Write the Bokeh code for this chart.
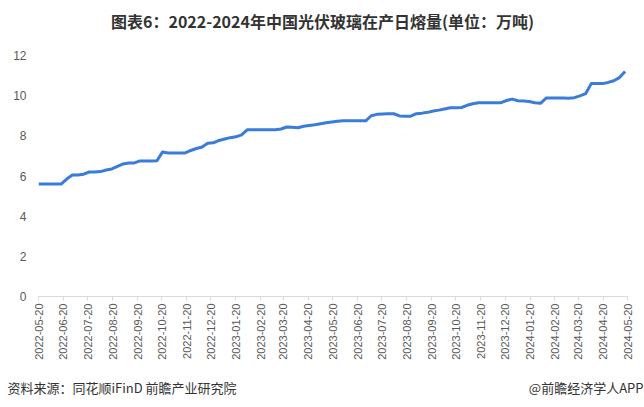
import math
import pandas as pd
from bokeh.plotting import figure
from bokeh.layouts import column, row
from bokeh.models import FixedTicker, DatetimeTickFormatter, Range1d, ColumnDataSource
from bokeh.core.properties import value
from bokeh.embed import file_html
from bokeh.resources import INLINE

title_text = "图表6：2022-2024年中国光伏玻璃在产日熔量(单位：万吨)"
source_text = "资料来源：同花顺iFinD 前瞻产业研究院"
brand_text = "@前瞻经济学人APP"

start_date = "2022-05-20"
# weekly daily-melting capacity (10k tonnes / day)
melt = [
    5.60, 5.60, 5.60, 5.60, 5.60, 5.85, 6.05, 6.05, 6.09, 6.20,
    6.20, 6.22, 6.30, 6.35, 6.48, 6.60, 6.65, 6.65, 6.75, 6.75,
    6.75, 6.76, 7.20, 7.15, 7.15, 7.15, 7.15, 7.27, 7.37, 7.44,
    7.63, 7.65, 7.77, 7.84, 7.91, 7.95, 8.05, 8.30, 8.30, 8.30,
    8.30, 8.30, 8.30, 8.34, 8.44, 8.43, 8.40, 8.48, 8.52, 8.55,
    8.60, 8.65, 8.69, 8.73, 8.75, 8.75, 8.75, 8.75, 8.75, 9.00,
    9.07, 9.09, 9.10, 9.10, 8.99, 8.97, 8.98, 9.10, 9.13, 9.17,
    9.24, 9.28, 9.34, 9.40, 9.40, 9.41, 9.52, 9.60, 9.65, 9.65,
    9.65, 9.65, 9.65, 9.76, 9.83, 9.75, 9.73, 9.71, 9.65, 9.62,
    9.88, 9.88, 9.88, 9.88, 9.87, 9.90, 9.99, 10.10, 10.60, 10.60,
    10.60, 10.66, 10.74, 10.90, 11.20,
]
tick_labels = [
    "2022-05-20", "2022-06-20", "2022-07-20", "2022-08-20", "2022-09-20",
    "2022-10-20", "2022-11-20", "2022-12-20", "2023-01-20", "2023-02-20",
    "2023-03-20", "2023-04-20", "2023-05-20", "2023-06-20", "2023-07-20",
    "2023-08-20", "2023-09-20", "2023-10-20", "2023-11-20", "2023-12-20",
    "2024-01-20", "2024-02-20", "2024-03-20", "2024-04-20", "2024-05-20",
]
y_ticks = [0, 2, 4, 6, 8, 10, 12]

W = 644
HEAD_H, MAIN_H, FOOT_H = 40, 332, 35

dates = pd.date_range(start_date, periods=len(melt), freq="7D")
src = ColumnDataSource(dict(x=dates, y=melt))
tick_ms = [pd.Timestamp(t).value // 10**6 for t in tick_labels]


def blank(h):
    f = figure(width=W, height=h, output_backend="svg", toolbar_location=None,
               x_range=Range1d(0, W), y_range=Range1d(0, h),
               min_border=0, min_border_left=0, min_border_right=0,
               min_border_top=0, min_border_bottom=0)
    f.axis.visible = False
    f.grid.visible = False
    f.outline_line_color = None
    f.background_fill_color = "white"
    f.border_fill_color = "white"
    return f


# header
head = blank(HEAD_H)
head.text(x=[W / 2], y=[HEAD_H - 20], text=[title_text], text_font=value("Noto Sans CJK SC"),
          text_font_style="bold", text_font_size="16px", text_color="#333333",
          text_align="center", text_baseline="middle")

# main chart
p = figure(width=W, height=MAIN_H, output_backend="svg", toolbar_location=None,
           x_axis_type="datetime",
           x_range=Range1d(pd.Timestamp(tick_labels[0]), pd.Timestamp(tick_labels[-1])),
           y_range=Range1d(0, 12),
           min_border_left=38, min_border_right=17, min_border_top=15, min_border_bottom=76)
p.outline_line_color = None
p.background_fill_color = "white"
p.border_fill_color = "white"
p.xgrid.visible = False
p.ygrid.visible = False

p.line("x", "y", source=src, line_color="#3A7CD9", line_width=3, line_join="round")

xa = p.xaxis[0]
xa.ticker = FixedTicker(ticks=tick_ms)
fmt = "%Y-%m-%d"
xa.formatter = DatetimeTickFormatter(milliseconds=fmt, seconds=fmt, minsec=fmt, minutes=fmt,
                                     hourmin=fmt, hours=fmt, days=fmt, months=fmt, years=fmt)
xa.major_label_orientation = math.pi / 2
xa.axis_line_color = "#D9D9D9"
xa.major_tick_line_color = "#D9D9D9"
xa.major_tick_out = 4
xa.major_tick_in = 0
xa.minor_tick_line_color = None
xa.major_label_standoff = 3
xa.major_label_text_font = "Liberation Sans"
xa.major_label_text_font_size = "11px"
xa.major_label_text_color = "#595959"

ya = p.yaxis[0]
ya.ticker = FixedTicker(ticks=y_ticks)
ya.axis_line_color = None
ya.major_tick_line_color = None
ya.minor_tick_line_color = None
ya.major_tick_out = 0
ya.major_tick_in = 0
ya.major_label_standoff = 12
ya.major_label_text_font = "Liberation Sans"
ya.major_label_text_font_size = "12px"
ya.major_label_text_color = "#595959"

# footer
foot = blank(FOOT_H)
foot.text(x=[7], y=[FOOT_H - 15], text=[source_text], text_font=value("Noto Sans CJK SC"),
          text_font_size="13px", text_color="#333333",
          text_align="left", text_baseline="middle")
foot.text(x=[W - 1], y=[FOOT_H - 15], text=[brand_text], text_font=value("Noto Sans CJK SC"),
          text_font_size="13px", text_color="#333333",
          text_align="right", text_baseline="middle")

layout = column(row(head), p, row(foot), spacing=0)
open("out.html", "w").write(file_html(layout, INLINE))
